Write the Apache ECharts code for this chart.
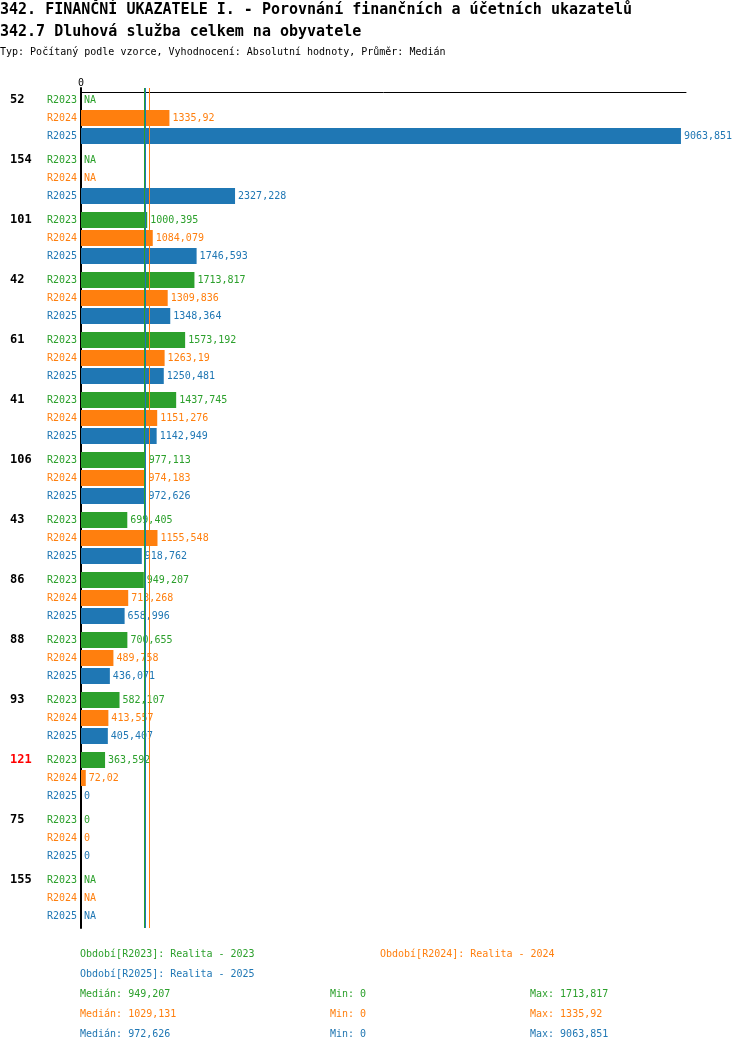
<!DOCTYPE html>
<html>
<head>
<meta charset="utf-8">
<script src="https://cdn.jsdelivr.net/npm/echarts@6/dist/echarts.min.js"></script>
<style>
  html, body { margin: 0; padding: 0; background: #fff; }
  #chart { width: 750px; height: 1052px; }
</style>
</head>
<body>
<div id="chart"></div>
<script>
// group codes, top to bottom
const groups = ['52', '154', '101', '42', '61', '41', '106', '43', '86', '88', '93', '121', '75', '155'];
const highlighted = ['121'];

// null = NA
const r2023 = [null, null, 1000.395, 1713.817, 1573.192, 1437.745, 977.113, 699.405, 949.207, 700.655, 582.107, 363.592, 0, null];
const r2024 = [1335.92, null, 1084.079, 1309.836, 1263.19, 1151.276, 974.183, 1155.548, 713.268, 489.758, 413.557, 72.02, 0, null];
const r2025 = [9063.851, 2327.228, 1746.593, 1348.364, 1250.481, 1142.949, 972.626, 918.762, 658.996, 436.071, 405.407, 0, 0, null];

const periods = ['R2023', 'R2024', 'R2025'];
const periodNames = ['Realita - 2023', 'Realita - 2024', 'Realita - 2025'];
const colors = ['#2ca02c', '#ff7f0e', '#1f77b4'];

// summary shown under the chart
const medians = [949.207, 1029.131, 972.626];
const mins = [0, 0, 0];
const maxs = [1713.817, 1335.92, 9063.851];

const FONT = '"DejaVu Sans Mono", "Liberation Mono", monospace';
const fmt = v => String(v).replace('.', ',');

const chart = echarts.init(document.getElementById('chart'));

function buildSeries(values, idx) {
  return {
    name: periods[idx],
    type: 'bar',
    barWidth: 16,
    barGap: '12.5%',
    itemStyle: { color: colors[idx] },
    label: {
      show: true,
      position: 'right',
      distance: 3,
      color: colors[idx],
      fontFamily: FONT,
      fontSize: 10,
      formatter: p => (p.data.na ? 'NA' : fmt(p.value))
    },
    data: values.map(v => (v === null ? { value: 0, na: true } : { value: v })),
    markLine: {
      silent: true,
      symbol: 'none',
      z: 10,
      label: { show: false },
      emphasis: { disabled: true },
      lineStyle: { color: colors[idx], type: 'solid', width: 1, opacity: 1 },
      data: [{ xAxis: medians[idx] }]
    }
  };
}

const footer = [];
function addText(x, y, text, color) {
  footer.push({
    type: 'text',
    x: x,
    y: y,
    style: { text: text, fill: color, font: '10px ' + FONT, verticalAlign: 'middle' }
  });
}
addText(80, 954, 'Období[' + periods[0] + ']: ' + periodNames[0], colors[0]);
addText(380, 954, 'Období[' + periods[1] + ']: ' + periodNames[1], colors[1]);
addText(80, 974, 'Období[' + periods[2] + ']: ' + periodNames[2], colors[2]);
for (let i = 0; i < 3; i++) {
  const y = 994 + i * 20;
  addText(80, y, 'Medián: ' + fmt(medians[i]), colors[i]);
  addText(330, y, 'Min: ' + fmt(mins[i]), colors[i]);
  addText(530, y, 'Max: ' + fmt(maxs[i]), colors[i]);
}

const option = {
  animation: false,
  title: [
    {
      text: '342. FINANČNÍ UKAZATELE I. - Porovnání finančních a účetních ukazatelů',
      left: 0, top: 3, padding: 0,
      textStyle: { fontFamily: FONT, fontSize: 15, fontWeight: 'bold', color: '#000' }
    },
    {
      text: '342.7 Dluhová služba celkem na obyvatele',
      left: 0, top: 25, padding: 0,
      textStyle: { fontFamily: FONT, fontSize: 15, fontWeight: 'bold', color: '#000' }
    },
    {
      text: 'Typ: Počítaný podle vzorce, Vyhodnocení: Absolutní hodnoty, Průměr: Medián',
      left: 0, top: 47, padding: 0,
      textStyle: { fontFamily: FONT, fontSize: 10, fontWeight: 'normal', color: '#000' }
    }
  ],
  grid: { left: 81, top: 88, width: 605, height: 840 },
  xAxis: {
    type: 'value',
    position: 'top',
    offset: -4,
    min: 0,
    max: 9140,
    interval: 9140,
    splitLine: { show: false },
    axisTick: { show: false },
    axisLine: { show: true, lineStyle: { color: '#000', width: 1 } },
    axisLabel: {
      fontFamily: FONT, fontSize: 10, color: '#000', margin: 4,
      formatter: v => (v === 0 ? '0' : '')
    }
  },
  yAxis: {
    type: 'category',
    inverse: true,
    data: groups,
    axisTick: { show: false },
    axisLine: { show: true, lineStyle: { color: '#000', width: 2 } },
    axisLabel: {
      margin: 4,
      formatter: g => {
        const gs = highlighted.includes(g) ? 'h' : 'g';
        return '{' + gs + '|' + g + '}{a|' + periods[0] + '}\n' +
               '{g| }{b|' + periods[1] + '}\n' +
               '{g| }{c|' + periods[2] + '}';
      },
      rich: {
        g: { width: 36, align: 'left', fontFamily: FONT, fontSize: 12, fontWeight: 'bold', color: '#000', lineHeight: 18 },
        h: { width: 36, align: 'left', fontFamily: FONT, fontSize: 12, fontWeight: 'bold', color: '#ff0000', lineHeight: 18 },
        a: { width: 31, align: 'right', fontFamily: FONT, fontSize: 10, color: colors[0], lineHeight: 18 },
        b: { width: 31, align: 'right', fontFamily: FONT, fontSize: 10, color: colors[1], lineHeight: 18 },
        c: { width: 31, align: 'right', fontFamily: FONT, fontSize: 10, color: colors[2], lineHeight: 18 }
      }
    }
  },
  series: [buildSeries(r2023, 0), buildSeries(r2024, 1), buildSeries(r2025, 2)],
  graphic: footer
};

chart.setOption(option);
</script>
</body>
</html>
